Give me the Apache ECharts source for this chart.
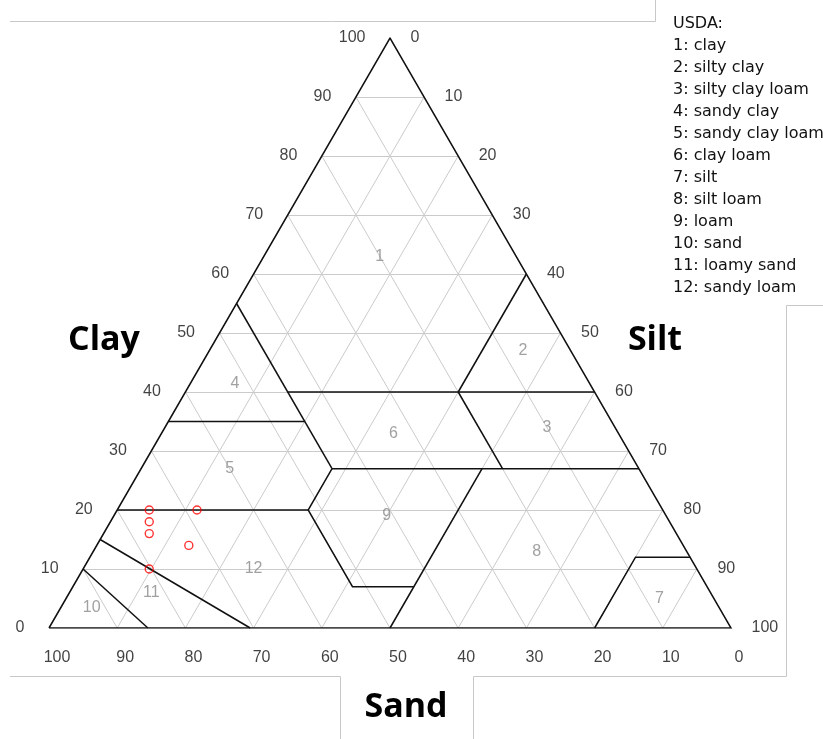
<!DOCTYPE html>
<html>
<head>
<meta charset="utf-8">
<script src="https://cdn.jsdelivr.net/npm/echarts@6/dist/echarts.min.js"></script>
<style>
  html, body { margin: 0; padding: 0; background: #ffffff; }
  #chart { width: 823px; height: 739px; }
</style>
</head>
<body>
<div id="chart"></div>
<script>
// Tick values printed along the three sides of the texture triangle
const clayTicks = [0, 10, 20, 30, 40, 50, 60, 70, 80, 90, 100];
const siltTicks = [0, 10, 20, 30, 40, 50, 60, 70, 80, 90, 100];
const sandTicks = [100, 90, 80, 70, 60, 50, 40, 30, 20, 10, 0];
// Interior guide lines, every 10 %
const gridSteps = [10, 20, 30, 40, 50, 60, 70, 80, 90];

// USDA texture classes
const classNames = [
  'clay', 'silty clay', 'silty clay loam', 'sandy clay', 'sandy clay loam',
  'clay loam', 'silt', 'silt loam', 'loam', 'sand', 'loamy sand', 'sandy loam'
];
// Where each class number sits (sand / silt / clay %)
const classLabelSand = [20, 7, 10, 52, 60, 33, 8, 22, 41, 92, 82, 65];
const classLabelSilt = [17, 46, 56, 6.5, 13, 34, 87, 65, 40, 4.5, 12, 25];
const classLabelClay = [63, 47, 34, 41.5, 27, 33, 5, 13, 19, 3.5, 6, 10];

// Class boundaries, each a polyline of [sand, silt, clay] points
const boundaryLines = [
  [[45, 15, 40], [0, 60, 40]],
  [[45, 0, 55], [45, 28, 27]],
  [[65, 0, 35], [45, 20, 35]],
  [[45, 28, 27], [0, 73, 27]],
  [[80, 0, 20], [52, 28, 20]],
  [[45, 28, 27], [52, 28, 20], [52, 41, 7], [43, 50, 7]],
  [[23, 50, 27], [50, 50, 0]],
  [[20, 40, 40], [20, 53, 27]],
  [[0, 40, 60], [20, 40, 40]],
  [[0, 88, 12], [8, 80, 12], [20, 80, 0]],
  [[90, 0, 10], [85.5, 14.5, 0]],
  [[85, 0, 15], [70.5, 29.5, 0]]
];

// Soil samples (sand / silt / clay %)
const sampleSand = [75.3, 76.3, 77.3, 68.3, 72.5, 80.3];
const sampleSilt = [4.7, 5.7, 6.7, 11.7, 13.5, 9.7];
const sampleClay = [20, 18, 16, 20, 14, 10];

// Ternary -> plane: x runs sand(100) -> silt(100), y is the clay share
function tern(sand, silt, clay) {
  return [silt + clay / 2, clay];
}

const FONT = '"Liberation Sans", Arial, sans-serif';
const LEGEND_FONT = '"DejaVu Sans", sans-serif';

const gridLineData = [];
gridSteps.forEach(k => {
  gridLineData.push({ coords: [tern(100 - k, 0, k), tern(0, 100 - k, k)] });       // constant clay
  gridLineData.push({ coords: [tern(100 - k, k, 0), tern(0, k, 100 - k)] });       // constant silt
  gridLineData.push({ coords: [tern(k, 100 - k, 0), tern(k, 0, 100 - k)] });       // constant sand
});

const boundaryData = boundaryLines.map(pl => ({ coords: pl.map(p => tern(p[0], p[1], p[2])) }));

const frameData = [{ coords: [tern(100, 0, 0), tern(0, 0, 100), tern(0, 100, 0), tern(100, 0, 0)] }];

function tickSeries(points, labels, labelOpt) {
  return {
    type: 'scatter',
    silent: true,
    symbolSize: 1,
    itemStyle: { color: 'rgba(0,0,0,0)' },
    data: points.map((p, i) => ({ value: p, name: String(labels[i]) })),
    label: Object.assign({
      show: true,
      formatter: '{b}',
      fontFamily: FONT,
      fontSize: 16,
      color: '#111111'
    }, labelOpt),
    z: 5
  };
}

const chart = echarts.init(document.getElementById('chart'), null, { renderer: 'canvas' });

chart.setOption({
  animation: false,
  backgroundColor: '#ffffff',
  title: {
    text: 'USDA:\n' + classNames.map((n, i) => (i + 1) + ': ' + n).join('\n'),
    left: 673,
    top: 13,
    padding: 0,
    textStyle: {
      fontFamily: LEGEND_FONT,
      fontSize: 16,
      fontWeight: 'normal',
      color: '#111111',
      lineHeight: 22
    }
  },
  grid: { left: 49, top: 38, width: 682, height: 590 },
  xAxis: { type: 'value', min: 0, max: 100, show: false },
  yAxis: { type: 'value', min: 0, max: 100, show: false },
  graphic: [
    { type: 'polyline', silent: true, shape: { points: [[10, 21.5], [655.5, 21.5], [655.5, 0]] },
      style: { stroke: '#c8c8c8', lineWidth: 1, fill: null } },
    { type: 'polyline', silent: true, shape: { points: [[823, 305.5], [786.5, 305.5], [786.5, 676.5], [473.5, 676.5], [473.5, 739]] },
      style: { stroke: '#c8c8c8', lineWidth: 1, fill: null } },
    { type: 'polyline', silent: true, shape: { points: [[10, 676.5], [340.5, 676.5], [340.5, 739]] },
      style: { stroke: '#c8c8c8', lineWidth: 1, fill: null } },
    { type: 'text', silent: true, x: 104, y: 340,
      style: { text: 'Clay', font: 'bold 34px "Open Sans", sans-serif', fill: '#000', textAlign: 'center', textVerticalAlign: 'middle' } },
    { type: 'text', silent: true, x: 655, y: 340,
      style: { text: 'Silt', font: 'bold 34px "Open Sans", sans-serif', fill: '#000', textAlign: 'center', textVerticalAlign: 'middle' } },
    { type: 'text', silent: true, x: 406, y: 707,
      style: { text: 'Sand', font: 'bold 34px "Open Sans", sans-serif', fill: '#000', textAlign: 'center', textVerticalAlign: 'middle' } }
  ],
  series: [
    {
      type: 'lines', coordinateSystem: 'cartesian2d', silent: true, z: 1,
      lineStyle: { color: '#cbcbcb', width: 1, opacity: 1 },
      data: gridLineData
    },
    {
      type: 'lines', coordinateSystem: 'cartesian2d', polyline: true, silent: true, z: 2,
      lineStyle: { color: '#111111', width: 1.5, opacity: 1 },
      data: boundaryData
    },
    {
      type: 'lines', coordinateSystem: 'cartesian2d', polyline: true, silent: true, z: 3,
      lineStyle: { color: '#111111', width: 1.5, opacity: 1 },
      data: frameData
    },
    tickSeries(clayTicks.map(c => tern(100 - c, 0, c)), clayTicks, { position: 'left', distance: 24 }),
    tickSeries(siltTicks.map(s => tern(0, s, 100 - s)), siltTicks, { position: 'right', distance: 20 }),
    tickSeries(sandTicks.map(s => tern(s, 100 - s, 0)), sandTicks, { position: 'inside', offset: [8, 30] }),
    {
      type: 'scatter', silent: true, symbolSize: 1, z: 4,
      itemStyle: { color: 'rgba(0,0,0,0)' },
      data: classNames.map((n, i) => ({
        value: tern(classLabelSand[i], classLabelSilt[i], classLabelClay[i]),
        name: String(i + 1)
      })),
      label: { show: true, position: 'inside', formatter: '{b}', fontFamily: FONT, fontSize: 16, color: '#8a8a8a' }
    },
    {
      type: 'scatter', silent: true, z: 6,
      symbol: 'circle', symbolSize: 8,
      itemStyle: { color: 'rgba(255,255,255,0)', borderColor: '#ff0000', borderWidth: 1.4 },
      data: sampleSand.map((s, i) => tern(s, sampleSilt[i], sampleClay[i]))
    }
  ]
});
</script>
</body>
</html>
